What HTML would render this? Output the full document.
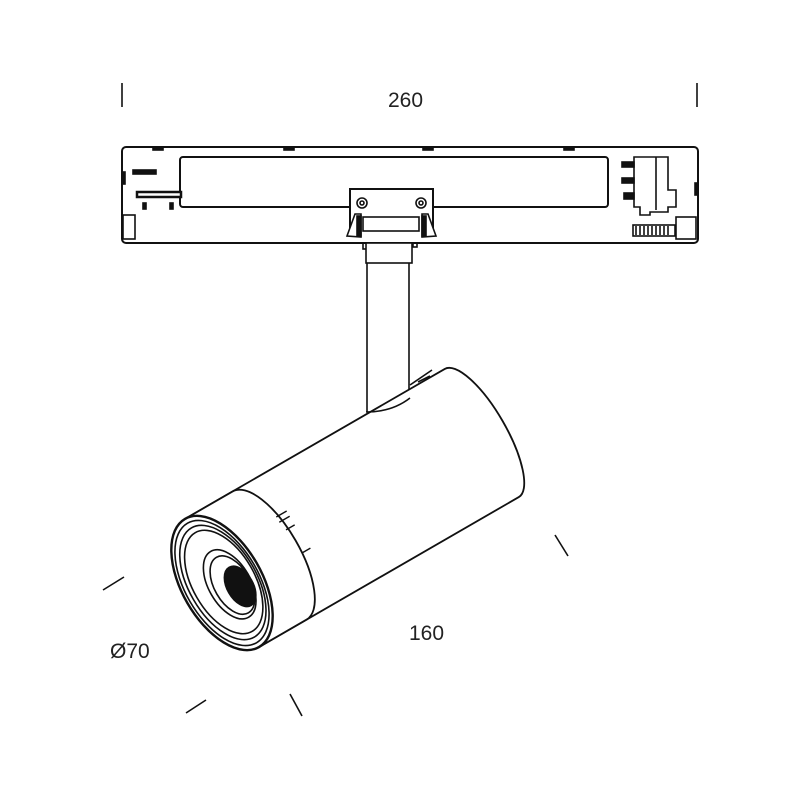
<!DOCTYPE html>
<html><head><style>
html,body{margin:0;padding:0;background:#fff;width:800px;height:800px;overflow:hidden}
svg{display:block}
text{font-family:"Liberation Sans",sans-serif;font-size:21px;fill:#222}
</style></head><body>
<svg width="800" height="800" viewBox="0 0 800 800" xmlns="http://www.w3.org/2000/svg">
<g stroke="#111" fill="none" stroke-width="1.6">
<line x1="122" y1="83" x2="122" y2="107"/>
<line x1="697" y1="83" x2="697" y2="107"/>
<line x1="103" y1="590" x2="124" y2="577"/>
<line x1="186" y1="713" x2="206" y2="700"/>
<line x1="290" y1="694" x2="302" y2="716"/>
<line x1="555" y1="535" x2="568" y2="556"/>

<rect x="122" y="147" width="576" height="96" rx="4" stroke-width="2"/>
<rect x="180" y="157" width="428" height="50" rx="3" stroke-width="2"/>
<rect x="153" y="147" width="10" height="3" fill="#111"/>
<rect x="284" y="147" width="10" height="3" fill="#111"/>
<rect x="423" y="147" width="10" height="3" fill="#111"/>
<rect x="564" y="147" width="10" height="3" fill="#111"/>
<rect x="133" y="170" width="23" height="4" fill="#111"/>
<rect x="137" y="192" width="44" height="5" fill="#fff" stroke-width="2.5"/>
<rect x="143" y="203" width="3" height="6" fill="#111"/>
<rect x="170" y="203" width="3" height="6" fill="#111"/>
<rect x="123" y="215" width="12" height="24"/>
<rect x="122" y="172" width="3" height="12" fill="#111"/>
<rect x="622" y="162" width="12" height="5" fill="#111"/>
<rect x="622" y="178" width="12" height="5" fill="#111"/>
<rect x="624" y="193" width="10" height="6" fill="#111"/>
<path d="M634 157 H668 V190 H676 V207 H668 V212 H650 V215 H640 V207 H634 Z"/>
<line x1="656" y1="157" x2="656" y2="210"/>
<rect x="633" y="225" width="42" height="11"/>
<path d="M636 226 V235 M640 226 V235 M644 226 V235 M648 226 V235 M652 226 V235 M656 226 V235 M660 226 V235 M664 226 V235 M668 226 V235"/>
<rect x="676" y="217" width="20" height="22"/>
<rect x="695" y="183" width="3" height="12" fill="#111"/>
<path d="M350 236 V189 H433 V236" fill="#fff" stroke-width="2"/>
<circle cx="362" cy="203" r="5"/><circle cx="362" cy="203" r="2"/>
<circle cx="421" cy="203" r="5"/><circle cx="421" cy="203" r="2"/>
<rect x="363" y="217" width="56" height="14"/>
<path d="M347 236 L355 214 H361 V237 Z" fill="#fff"/>
<path d="M436 236 L428 214 H422 V237 Z" fill="#fff"/>
<rect x="357" y="216" width="4" height="20" fill="#111"/>
<rect x="422" y="216" width="4" height="20" fill="#111"/>
<rect x="363" y="243" width="6" height="6"/>
<rect x="413" y="243" width="4" height="4"/>
<rect x="366" y="243" width="46" height="20" fill="#fff"/>
<path d="M367 263 V412 M409 263 V400"/>
<path d="M410 385 L432 370 M414 392 L436 377 M418 382 L430 376"/>

<g transform="translate(222,583) rotate(-30)">
<path d="M0,-74 L300,-74 A24 74 0 0 1 300,74 L0,74" fill="#fff" stroke-width="1.8"/>
<path d="M0,-74 L55,-74 A30 74 0 0 1 55,74 L0,74" fill="#fff" stroke-width="1.8"/>
<ellipse cx="0" cy="0" rx="40" ry="74" fill="#fff" stroke-width="2.4"/>
<ellipse cx="0" cy="0" rx="37" ry="69"/>
<ellipse cx="1" cy="0" rx="34" ry="63"/>
<ellipse cx="2" cy="0" rx="31" ry="57"/>
<ellipse cx="6" cy="5" rx="21" ry="38"/>
<ellipse cx="8" cy="7" rx="18" ry="32"/>
<ellipse cx="14" cy="12" rx="13" ry="22" fill="#111"/>
<path d="M80,-30 l12,0 M80,-24 l12,0 M82,-14 l10,0 M84,14 l10,0" stroke-width="1.4"/>
</g>
<path d="M366 412 Q392 412 410 398" stroke-width="1.6"/>
</g>
<text x="388" y="107">260</text>
<text x="110" y="658">Ø70</text>
<text x="409" y="640">160</text>
</svg>
</body></html>
